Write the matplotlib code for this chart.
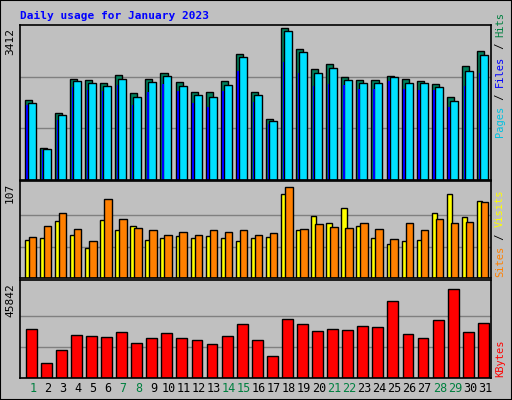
import matplotlib
matplotlib.use('Agg')
import matplotlib.pyplot as plt
import numpy as np

days = list(range(1, 32))
hits = [1752, 705, 1480, 2230, 2207, 2138, 2320, 1911, 2230, 2366, 2161, 1934, 1934, 2184, 2775, 1934,
        1342, 3344, 2889, 2434, 2548, 2275, 2207, 2207, 2298, 2230, 2184, 2116, 1820, 2502, 2844]
files = [1700, 680, 1430, 2180, 2140, 2070, 2230, 1820, 2160, 2280, 2070, 1870, 1820, 2100, 2700, 1870,
         1300, 3280, 2820, 2360, 2470, 2210, 2140, 2140, 2270, 2140, 2140, 2040, 1750, 2410, 2760]
pages = [1640, 660, 1330, 2040, 1990, 1970, 2100, 1650, 1930, 2120, 1950, 1700, 1600, 1970, 2390, 1710,
         1230, 2590, 2350, 2060, 2110, 2090, 2010, 2010, 2180, 2010, 1980, 1980, 1610, 2080, 2350]
visits = [43, 46, 65, 49, 34, 66, 54, 59, 43, 46, 48, 46, 48, 45, 42, 46, 47, 96, 54, 71, 63, 79, 59, 46,
          39, 42, 43, 74, 95, 69, 87]
sites = [47, 59, 74, 56, 42, 90, 67, 57, 54, 49, 52, 49, 55, 52, 54, 49, 51, 103, 56, 61, 58, 57, 62, 56,
         44, 62, 54, 67, 63, 64, 86]
kbytes = [24280, 7397, 13668, 21386, 20904, 20421, 22834, 17527, 19939, 22352, 19939, 18974, 17044, 20904,
          26693, 18974, 10774, 29105, 26693, 23316, 24280, 23798, 25728, 25245, 38270, 21869, 19939, 28623,
          44059, 22834, 27175]
weekend = [1, 7, 8, 14, 15, 21, 22, 28, 29]

W, H = 512, 400
bg = '#C0C0C0'
fig = plt.figure(figsize=(W / 100, H / 100), dpi=100, facecolor=bg)
fig.patches.append(plt.Rectangle((0, 0), 1, 1, transform=fig.transFigure, fill=False,
                                 edgecolor='black', lw=1.5))
font = 'DejaVu Sans Mono'

def add_ax(top, bottom):
    ax = fig.add_axes([20 / W, 1 - bottom / H, 471 / W, (bottom - top) / H])
    ax.set_facecolor(bg)
    ax.set_xlim(0.15, 31.4)
    ax.set_xticks([])
    ax.set_yticks([])
    for s in ax.spines.values():
        s.set_color('black')
        s.set_linewidth(1.2)
    return ax

x = np.array(days)
ec = dict(edgecolor='black', linewidth=1)

ax1 = add_ax(25, 180)
m1 = 3412
ax1.set_ylim(0, m1 * 1.0)
for g in (m1 / 3, 2 * m1 / 3):
    ax1.axhline(g, color='#808080', lw=1, zorder=0)
ax1.bar(x - 0.53, hits, width=0.47, align='edge', color='#00805C', **ec)
ax1.bar(x - 0.33, files, width=0.53, align='edge', color='#00E0FF', **ec)
ax1.bar(x - 0.42, pages, width=0.1, align='edge', color='#0000FF', linewidth=0)

ax2 = add_ax(181, 278)
m2 = 107
ax2.set_ylim(0, m2 * 1.03)
for g in (m2 / 3, 2 * m2 / 3):
    ax2.axhline(g, color='#808080', lw=1, zorder=0)
ax2.bar(x - 0.53, visits, width=0.35, align='edge', color='#FFFF00', **ec)
ax2.bar(x - 0.27, sites, width=0.5, align='edge', color='#FF8000', **ec)

ax3 = add_ax(280, 378)
m3 = 45842
ax3.set_ylim(0, m3 * 1.06)
for g in (m3 / 3, 2 * m3 / 3):
    ax3.axhline(g, color='#808080', lw=1, zorder=0)
ax3.bar(x - 0.47, kbytes, width=0.72, align='edge', color='#FF0000', **ec)
ax3.set_xticks(x)
ax3.set_xticklabels([str(d) for d in days], fontsize=8.5, fontfamily=font)
ax3.tick_params(axis='x', length=0, pad=3)
for lbl, d in zip(ax3.get_xticklabels(), days):
    lbl.set_color('#008040' if d in weekend else 'black')

fig.text(20 / W, 1 - 16 / H, 'Daily usage for January 2023', color='#0000FF', fontsize=8,
         fontweight='bold', fontfamily=font, va='center')
for ytop, txt in ((28, '3412'), (183, '107'), (283, '45842')):
    fig.text(10 / W, 1 - ytop / H, txt, rotation=90, fontsize=8, fontfamily=font,
             ha='center', va='top')

rfs = 7.5
step = rfs * 0.602 * 100 / 72

def right_label(ybot, parts):
    y = 1 - ybot / H
    for txt, col in parts:
        fig.text(500 / W, y, txt, rotation=90, color=col, fontsize=rfs, fontfamily=font,
                 ha='center', va='bottom')
        y += len(txt) * step / H

right_label(137, [('Pages', '#00C0E0'), (' / ', '#000000'), ('Files', '#0000FF'),
                  (' / ', '#000000'), ('Hits', '#008040')])
right_label(277, [('Sites', '#FF8000'), (' / ', '#000000'), ('Visits', '#FFFF00')])
right_label(377, [('KBytes', '#FF0000')])

fig.savefig('out.png', dpi=100, facecolor=bg)
